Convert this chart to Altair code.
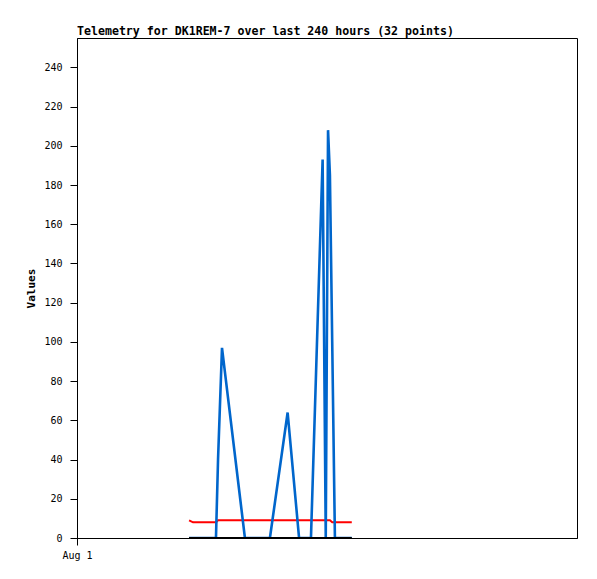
import altair as alt
import pandas as pd

title_text = "Telemetry for DK1REM-7 over last 240 hours (32 points)"
x_tick_label = "Aug 1"

# hours after Aug 1 00:00
hours = [53.8, 55.7, 57.5, 59.5, 61.5, 63.5, 65.5, 66.7, 67.7, 69.6,
         80.6, 83.0, 85.5, 88.0, 90.5, 92.6, 101.1, 106.6, 108.5, 110.5,
         112.3, 117.9, 119.4, 120.5, 121.4, 122.5, 123.8, 124.9, 126.0, 128.0,
         130.0, 131.9]
blue_vals = [0, 0, 0, 0, 0, 0, 0, 0, 40, 97,
             0, 0, 0, 0, 0, 0, 64, 0, 0, 0,
             0, 193, 0, 208, 185, 100, 0, 0, 0, 0,
             0, 0]
red_vals = [9, 8, 8, 8, 8, 8, 8, 8, 9, 9,
            9, 9, 9, 9, 9, 9, 9, 9, 9, 9,
            9, 9, 9, 9, 9, 8, 8, 8, 8, 8,
            8, 8]
black_vals = [0] * 32

series_names = ["red", "blue", "black"]
series_colors = ["#ff0000", "#0066cc", "#000000"]
series_widths = [2, 2.6, 2]

rows = []
for name, vals in zip(series_names, [red_vals, blue_vals, black_vals]):
    for h, v in zip(hours, vals):
        rows.append({"h": h, "v": v, "s": name})
df = pd.DataFrame(rows)

FONT = "DejaVu Sans Mono"

layers = []
for name, col, w in zip(series_names, series_colors, series_widths):
    layers.append(
        alt.Chart(df).transform_filter(alt.datum.s == name).mark_line(
            color=col, strokeWidth=w, interpolate="linear", clip=True
        ).encode(
            x=alt.X("h:Q", scale=alt.Scale(domain=[0, 240], nice=False, zero=False),
                    axis=alt.Axis(values=[0], labelExpr=f"'{x_tick_label}'", title=None,
                                  grid=False, tickSize=7, tickColor="black",
                                  domainColor="black", labelFont=FONT, labelFontSize=10,
                                  labelColor="black", labelPadding=5, labelFlush=False,
                                  labelBound=False)),
            y=alt.Y("v:Q", scale=alt.Scale(domain=[0, 255], nice=False),
                    axis=alt.Axis(values=list(range(0, 241, 20)), title="Values",
                                  grid=False, tickSize=7, tickColor="black",
                                  domainColor="black", labelFont=FONT, labelFontSize=10,
                                  labelColor="black", labelPadding=8,
                                  titleFont=FONT, titleFontSize=11, titleFontWeight="bold",
                                  titleColor="black", titlePadding=7)),
        )
    )

chart = alt.layer(*layers).properties(
    width=500, height=500,
    title=alt.TitleParams(title_text, anchor="start", frame="group", font=FONT,
                          fontSize=11.6, fontWeight="bold", color="black", offset=0),
    padding={"left": 17, "top": 18, "right": 5, "bottom": 5},
).configure_view(stroke="black", strokeWidth=1)

chart.save("out.html", embed_options={"renderer": "svg", "actions": False})
